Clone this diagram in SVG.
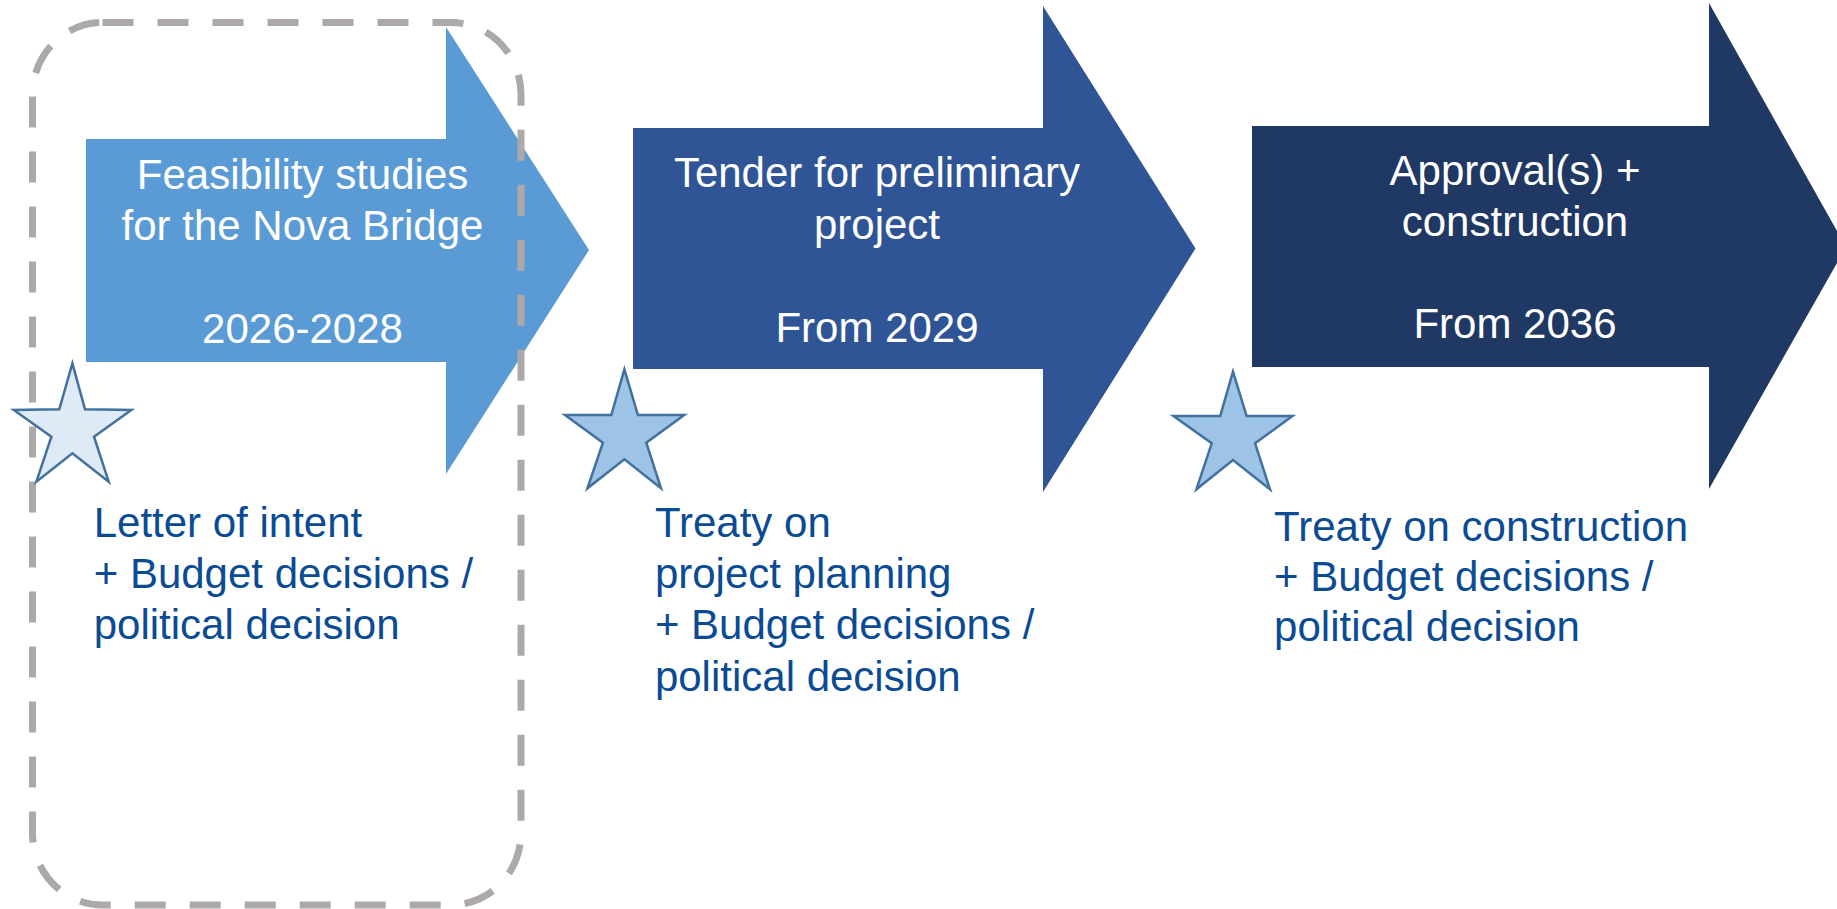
<svg xmlns="http://www.w3.org/2000/svg" width="1837" height="909" viewBox="0 0 1837 909">
<style>
.lbl{font-family:"Liberation Sans",Arial,sans-serif;font-size:42px;fill:#ffffff;text-anchor:middle}
.note{font-family:"Liberation Sans",Arial,sans-serif;font-size:42px;fill:#0B4B94}
.star{stroke:#41719C;stroke-width:2.5;stroke-linejoin:miter}
</style>
<rect width="1837" height="909" fill="#ffffff"/>
<g id="phase1">
<polygon points="86,139 446,139 446,27 589,250 446,474 446,362 86,362" fill="#5B9BD5"/>
<text class="lbl" x="302.5" y="189">Feasibility studies</text>
<text class="lbl" x="302.5" y="240">for the Nova Bridge</text>
<text class="lbl" x="302.5" y="343">2026-2028</text>
</g>
<g id="phase2">
<polygon points="633,128 1043,128 1043,6 1195.5,248.5 1043,492 1043,369 633,369" fill="#2F5597"/>
<text class="lbl" x="877" y="187">Tender for preliminary</text>
<text class="lbl" x="877" y="239">project</text>
<text class="lbl" x="877" y="341.5">From 2029</text>
</g>
<g id="phase3">
<polygon points="1252,126 1709,126 1709,3 1846,247 1709,489 1709,367 1252,367" fill="#203864"/>
<text class="lbl" x="1515" y="185">Approval(s) +</text>
<text class="lbl" x="1515" y="236">construction</text>
<text class="lbl" x="1515" y="338">From 2036</text>
</g>
<g id="highlight">
<rect x="32.5" y="22.5" width="488.5" height="882.5" rx="70" ry="72" fill="none" stroke="#ADA9A9" stroke-width="7" stroke-dasharray="31 24"/>
</g>
<g id="milestone1">
<polygon class="star" fill="#DEEBF7" points="72.4,363.3 85,409.3 131.3,410 94,436.7 108.7,481.7 72.4,453.3 36.4,481.7 51.4,436.7 13.8,410 59.3,409.3"/>
<text class="note" x="93.7" y="536.7">Letter of intent</text>
<text class="note" x="93.7" y="588.3">+ Budget decisions /</text>
<text class="note" x="93.7" y="639.3">political decision</text>
</g>
<g id="milestone2">
<polygon class="star" fill="#9DC3E6" points="624.4,369.3 637.9,415 684.2,415 646.3,442.7 661,488.3 624.4,459.3 587.4,488.3 602.9,442.7 565,415 611.3,415"/>
<text class="note" x="654.9" y="537.3">Treaty on</text>
<text class="note" x="654.9" y="588.3">project planning</text>
<text class="note" x="654.9" y="639.3">+ Budget decisions /</text>
<text class="note" x="654.9" y="690.7">political decision</text>
</g>
<g id="milestone3">
<polygon class="star" fill="#9DC3E6" points="1233,371.7 1246.6,416 1292.5,416 1255.1,443.3 1270,489.3 1233,460 1196.4,489.3 1211.7,443.3 1173.4,416 1220.2,416"/>
<text class="note" x="1274.1" y="540.7">Treaty on construction</text>
<text class="note" x="1274.1" y="590.7">+ Budget decisions /</text>
<text class="note" x="1274.1" y="641">political decision</text>
</g>
<g id="connectors"></g>
</svg>
